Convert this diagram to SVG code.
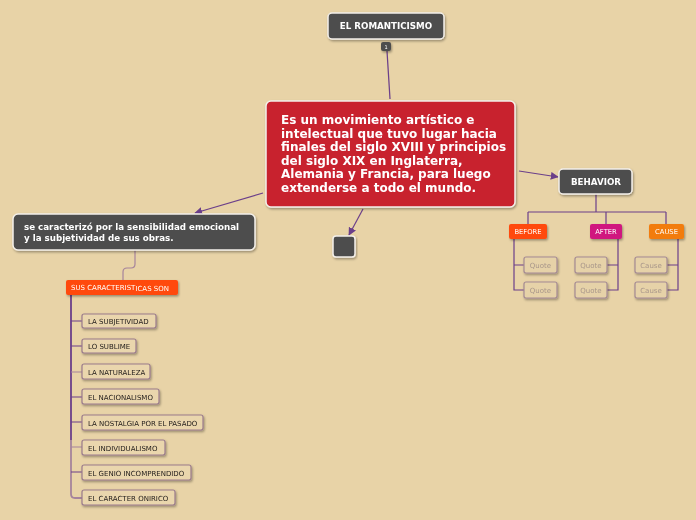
<svg xmlns="http://www.w3.org/2000/svg" width="696" height="520" viewBox="0 0 696 520">
<style>
.dark{fill:#4d4d4d;stroke:#f4f0ea;stroke-width:1.5}
.wt{fill:#ffffff;font-family:"DejaVu Sans",Verdana,sans-serif;font-weight:bold}
.item{fill:#ead6ad;stroke:#9a7b8c;stroke-width:1.2}
.it{fill:#1e1a18;font-family:"DejaVu Sans",Verdana,sans-serif;font-size:7px}
.q{fill:#e6d2a8;stroke:#a48a93;stroke-width:1.2}
.qt{fill:#a8968a;font-family:"DejaVu Sans",Verdana,sans-serif;font-size:7px;text-anchor:middle}
.tag{font-family:"DejaVu Sans",Verdana,sans-serif;font-size:6.8px;fill:#fff;text-anchor:middle}
.ln{fill:none;stroke:#6b3f8a;stroke-width:1.2}
.lnl{fill:none;stroke:#a6849c;stroke-width:1.2}
</style>
<defs>
<marker id="ah" viewBox="0 0 10 10" refX="9" refY="5" markerWidth="8" markerHeight="8" markerUnits="userSpaceOnUse" orient="auto">
<path d="M0,0 L10,5 L0,10 Z" fill="#6b3f8a"/>
</marker>
<filter id="sh" x="-10%" y="-10%" width="120%" height="140%">
<feDropShadow dx="1" dy="1.5" stdDeviation="0.8" flood-color="#000" flood-opacity="0.35"/>
</filter>
</defs>
<rect width="696" height="520" fill="#e8d3a7"/>

<g id="connectors">
<line class="ln" x1="387" y1="51" x2="390" y2="99"/>
<line class="ln" x1="519" y1="171" x2="558" y2="177" marker-end="url(#ah)"/>
<line class="ln" x1="263" y1="193" x2="195" y2="213" marker-end="url(#ah)"/>
<line class="ln" x1="363" y1="209" x2="349" y2="235" marker-end="url(#ah)"/>
<path class="lnl" d="M135,250 V264 Q135,268 131,268 H127 Q123,268 123,272 V280"/>
<path class="ln" d="M596,194 V212 M528,212 H666 M528,212 V224 M606,212 V224 M666,212 V224"/>
<path class="ln" d="M514,239 V290 H524 M514,265 H524"/>
<path class="ln" d="M618,239 V290 H607 M618,265 H607"/>
<path class="ln" d="M678,239 V290 H667 M678,265 H667"/>
<path fill="none" stroke="#6b3f8a" stroke-width="1.8" d="M71,295 V440"/>
<path fill="none" stroke="#a6849c" stroke-width="1.8" d="M71,440 V494 Q71,498 75,498 H82"/>
<path class="ln" d="M71,321 H82 M71,346 H82 M71,397 H82 M71,422 H82 M71,472 H82"/>
<path class="lnl" d="M71,372 H82 M71,447 H82"/>
</g>

<g id="title" filter="url(#sh)">
<rect class="dark" x="328" y="13" width="116" height="26" rx="4"/>
<text class="wt" x="386" y="29" font-size="8.7" text-anchor="middle">EL ROMANTICISMO</text>
<rect x="381" y="42" width="10" height="9" rx="2" fill="#4d4d4d"/>
<text x="386" y="49" font-size="5" fill="#fff" text-anchor="middle" font-family="DejaVu Sans,sans-serif">1</text>
</g>

<g id="central" filter="url(#sh)">
<rect x="266" y="101" width="249" height="106" rx="5" fill="#c8202f" stroke="#f4f0ea" stroke-width="1.5"/>
<text class="wt" font-size="12">
<tspan x="281" y="124">Es un movimiento artístico e</tspan>
<tspan x="281" y="137.6">intelectual que tuvo lugar hacia</tspan>
<tspan x="281" y="151.2">finales del siglo XVIII y principios</tspan>
<tspan x="281" y="164.8">del siglo XIX en Inglaterra,</tspan>
<tspan x="281" y="178.4">Alemania y Francia, para luego</tspan>
<tspan x="281" y="192">extenderse a todo el mundo.</tspan>
</text>
</g>

<g id="behavior" filter="url(#sh)">
<rect class="dark" x="559" y="169" width="73" height="25" rx="4"/>
<text class="wt" x="596" y="185" font-size="8.7" text-anchor="middle">BEHAVIOR</text>
</g>

<g id="left" filter="url(#sh)">
<rect class="dark" x="13" y="214" width="242" height="36" rx="5"/>
<text class="wt" font-size="8.7">
<tspan x="24" y="230">se caracterizó por la sensibilidad emocional</tspan>
<tspan x="24" y="241">y la subjetividad de sus obras.</tspan>
</text>
</g>

<g id="empty" filter="url(#sh)">
<rect class="dark" x="333" y="236" width="22" height="21" rx="3"/>
</g>

<g id="sus" filter="url(#sh)">
<rect x="66" y="280" width="112" height="15" rx="2" fill="#ff4a0a"/>
<text font-family="DejaVu Sans,sans-serif" font-size="7" fill="#fff" x="71" y="290">SUS CARACTERIST<tspan dy="1.2">ICAS SON</tspan></text>
</g>

<g id="before" filter="url(#sh)">
<rect x="509" y="224" width="38" height="15" rx="2" fill="#ff4a0a"/>
<text class="tag" x="528" y="234">BEFORE</text>
</g>
<g id="after" filter="url(#sh)">
<rect x="590" y="224" width="32" height="15" rx="2" fill="#d0177f"/>
<text class="tag" x="606" y="234">AFTER</text>
</g>
<g id="cause" filter="url(#sh)">
<rect x="649" y="224" width="35" height="15" rx="2" fill="#f27c0c"/>
<text class="tag" x="666.5" y="234">CAUSE</text>
</g>

<g id="q1" filter="url(#sh)"><rect class="q" x="524" y="257" width="33" height="16" rx="2"/><text class="qt" x="540.5" y="268">Quote</text></g>
<g id="q2" filter="url(#sh)"><rect class="q" x="524" y="282" width="33" height="16" rx="2"/><text class="qt" x="540.5" y="293">Quote</text></g>
<g id="q3" filter="url(#sh)"><rect class="q" x="575" y="257" width="32" height="16" rx="2"/><text class="qt" x="591" y="268">Quote</text></g>
<g id="q4" filter="url(#sh)"><rect class="q" x="575" y="282" width="32" height="16" rx="2"/><text class="qt" x="591" y="293">Quote</text></g>
<g id="c1" filter="url(#sh)"><rect class="q" x="635" y="257" width="32" height="16" rx="2"/><text class="qt" x="651" y="268">Cause</text></g>
<g id="c2" filter="url(#sh)"><rect class="q" x="635" y="282" width="32" height="16" rx="2"/><text class="qt" x="651" y="293">Cause</text></g>

<g id="i1" filter="url(#sh)"><rect class="item" x="82" y="314" width="74" height="14" rx="2"/><text class="it" x="88" y="323.5">LA SUBJETIVIDAD</text></g>
<g id="i2" filter="url(#sh)"><rect class="item" x="82" y="339" width="54" height="14" rx="2"/><text class="it" x="88" y="348.5">LO SUBLIME</text></g>
<g id="i3" filter="url(#sh)"><rect class="item" x="82" y="364" width="68" height="15" rx="2"/><text class="it" x="88" y="374.5">LA NATURALEZA</text></g>
<g id="i4" filter="url(#sh)"><rect class="item" x="82" y="389" width="77" height="15" rx="2"/><text class="it" x="88" y="399.5">EL NACIONALISMO</text></g>
<g id="i5" filter="url(#sh)"><rect class="item" x="82" y="415" width="121" height="15" rx="2"/><text class="it" x="88" y="425.5">LA NOSTALGIA POR EL PASADO</text></g>
<g id="i6" filter="url(#sh)"><rect class="item" x="82" y="440" width="83" height="15" rx="2"/><text class="it" x="88" y="450.5">EL INDIVIDUALISMO</text></g>
<g id="i7" filter="url(#sh)"><rect class="item" x="82" y="465" width="109" height="15" rx="2"/><text class="it" x="88" y="475.5">EL GENIO INCOMPRENDIDO</text></g>
<g id="i8" filter="url(#sh)"><rect class="item" x="82" y="490" width="93" height="15" rx="2"/><text class="it" x="88" y="500.5">EL CARACTER ONIRICO</text></g>
</svg>
